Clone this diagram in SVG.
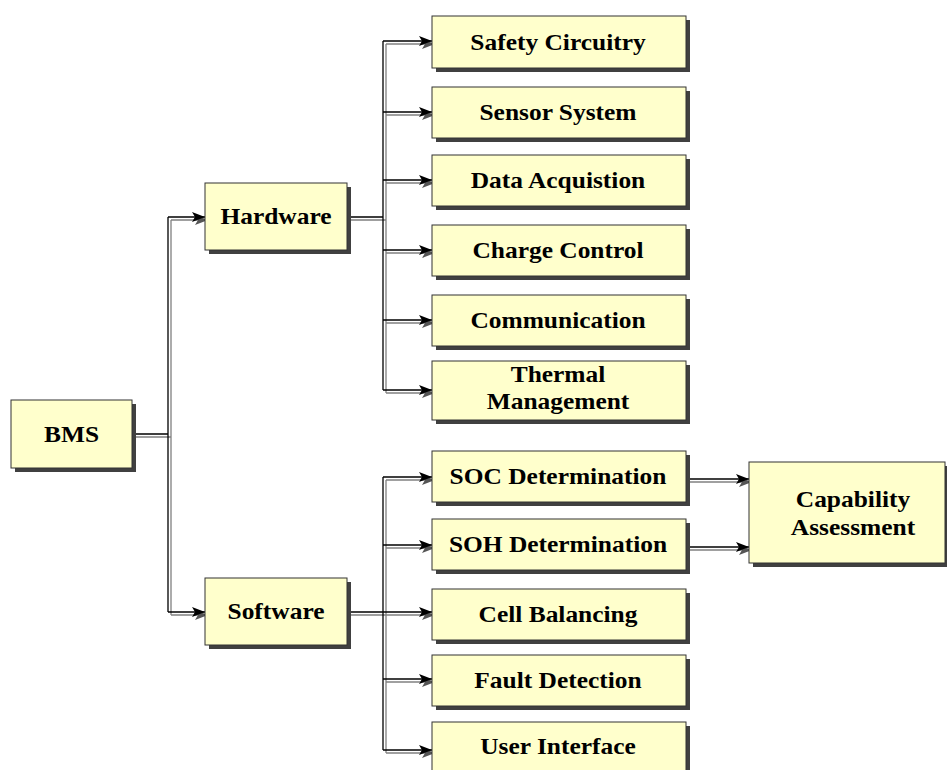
<svg xmlns="http://www.w3.org/2000/svg" width="947" height="770" viewBox="0 0 947 770">
<style>
.box{fill:#FFFFCC;stroke:#333333;stroke-width:1}
.sh{fill:#404040}
.t{font-family:"Liberation Serif","Times New Roman",serif;font-weight:bold;font-size:24px;fill:#000;text-anchor:middle}
.c{fill:none;stroke:#000;stroke-width:1.3}
.cs{fill:none;stroke:#808080;stroke-width:1.3}
</style>
<defs>
<marker id="ah" markerUnits="userSpaceOnUse" markerWidth="14" markerHeight="12" refX="13" refY="6" orient="auto"><path d="M0,1 L13,6 L0,11 L3,6 z" fill="#000"/></marker>
<marker id="ahs" markerUnits="userSpaceOnUse" markerWidth="14" markerHeight="12" refX="13" refY="6" orient="auto"><path d="M0,1 L13,6 L0,11 L3,6 z" fill="#555"/></marker>
</defs>
<g id="connectors">
<g class="cs" transform="translate(3,3)">
<path d="M132,434 H168 M168,217 V612 M347,217 H383 M383,41 V390 M347,612 H383 M383,477 V750"/>
<g marker-end="url(#ahs)">
<path d="M168,217 H205"/><path d="M168,612 H205"/>
<path d="M383,41 H432"/><path d="M383,112 H432"/><path d="M383,180 H432"/><path d="M383,250 H432"/><path d="M383,320 H432"/><path d="M383,390 H432"/>
<path d="M383,477 H432"/><path d="M383,545 H432"/><path d="M383,612 H432"/><path d="M383,679 H432"/><path d="M383,750 H432"/>
<path d="M686,479 H749"/><path d="M686,547 H749"/>
</g>
</g>
<g class="c">
<path d="M132,434 H168 M168,217 V612 M347,217 H383 M383,41 V390 M347,612 H383 M383,477 V750"/>
<g marker-end="url(#ah)">
<path d="M168,217 H205"/><path d="M168,612 H205"/>
<path d="M383,41 H432"/><path d="M383,112 H432"/><path d="M383,180 H432"/><path d="M383,250 H432"/><path d="M383,320 H432"/><path d="M383,390 H432"/>
<path d="M383,477 H432"/><path d="M383,545 H432"/><path d="M383,612 H432"/><path d="M383,679 H432"/><path d="M383,750 H432"/>
<path d="M686,479 H749"/><path d="M686,547 H749"/>
</g>
</g>
</g>
<g id="bms"><rect class="sh" x="15" y="404" width="121" height="68"/><rect class="box" x="11" y="400" width="121" height="68"/><text class="t" transform="translate(71.5,442) scale(1.06,1)">BMS</text></g>
<g id="hardware"><rect class="sh" x="209" y="187" width="142" height="67"/><rect class="box" x="205" y="183" width="142" height="67"/><text class="t" transform="translate(276,223.5) scale(1.06,1)">Hardware</text></g>
<g id="software"><rect class="sh" x="209" y="582" width="142" height="67"/><rect class="box" x="205" y="578" width="142" height="67"/><text class="t" transform="translate(276,619) scale(1.06,1)">Software</text></g>
<g id="safety"><rect class="sh" x="436" y="20" width="254" height="52"/><rect class="box" x="432" y="16" width="254" height="52"/><text class="t" transform="translate(558,49.5) scale(1.06,1)">Safety Circuitry</text></g>
<g id="sensor"><rect class="sh" x="436" y="91" width="254" height="51"/><rect class="box" x="432" y="87" width="254" height="51"/><text class="t" transform="translate(558,120) scale(1.06,1)">Sensor System</text></g>
<g id="data"><rect class="sh" x="436" y="159" width="254" height="51"/><rect class="box" x="432" y="155" width="254" height="51"/><text class="t" transform="translate(558,188) scale(1.06,1)">Data Acquistion</text></g>
<g id="charge"><rect class="sh" x="436" y="229" width="254" height="51"/><rect class="box" x="432" y="225" width="254" height="51"/><text class="t" transform="translate(558,258) scale(1.06,1)">Charge Control</text></g>
<g id="comm"><rect class="sh" x="436" y="299" width="254" height="51"/><rect class="box" x="432" y="295" width="254" height="51"/><text class="t" transform="translate(558,328) scale(1.06,1)">Communication</text></g>
<g id="thermal"><rect class="sh" x="436" y="365" width="254" height="59"/><rect class="box" x="432" y="361" width="254" height="59"/><text class="t" transform="translate(558,382) scale(1.06,1)">Thermal</text><text class="t" transform="translate(558,409) scale(1.06,1)">Management</text></g>
<g id="soc"><rect class="sh" x="436" y="455" width="254" height="51"/><rect class="box" x="432" y="451" width="254" height="51"/><text class="t" transform="translate(558,484) scale(1.06,1)">SOC Determination</text></g>
<g id="soh"><rect class="sh" x="436" y="523" width="254" height="51"/><rect class="box" x="432" y="519" width="254" height="51"/><text class="t" transform="translate(558,552) scale(1.06,1)">SOH Determination</text></g>
<g id="cell"><rect class="sh" x="436" y="593" width="254" height="51"/><rect class="box" x="432" y="589" width="254" height="51"/><text class="t" transform="translate(558,622) scale(1.06,1)">Cell Balancing</text></g>
<g id="fault"><rect class="sh" x="436" y="659" width="254" height="51"/><rect class="box" x="432" y="655" width="254" height="51"/><text class="t" transform="translate(558,688) scale(1.06,1)">Fault Detection</text></g>
<g id="user"><rect class="sh" x="436" y="726" width="254" height="51"/><rect class="box" x="432" y="722" width="254" height="51"/><text class="t" transform="translate(558,754) scale(1.06,1)">User Interface</text></g>
<g id="capability"><rect class="sh" x="753" y="466" width="196" height="101"/><rect class="box" x="749" y="462" width="196" height="101"/><text class="t" transform="translate(853,506.5) scale(1.06,1)">Capability</text><text class="t" transform="translate(853,534.5) scale(1.06,1)">Assessment</text></g>
</svg>
